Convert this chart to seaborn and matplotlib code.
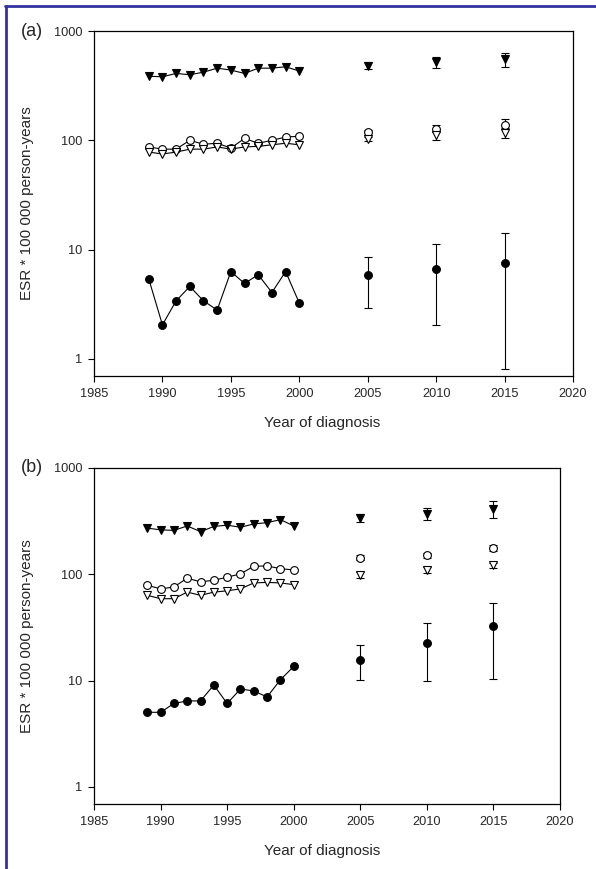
import numpy as np
import pandas as pd
import matplotlib
matplotlib.use("Agg")
import matplotlib.pyplot as plt
from matplotlib.lines import Line2D
import seaborn as sns

sns.set_theme(style="white")
plt.rcParams['font.family'] = ['Liberation Sans', 'DejaVu Sans']

years_annual = [1989, 1990, 1991, 1992, 1993, 1994, 1995, 1996, 1997, 1998, 1999, 2000]
years_proj = [2005, 2010, 2015]
series_names = ["filled_tri", "open_circle", "open_tri", "filled_circle"]

# ---- Panel (a) ----
a_filled_tri = [386, 381, 409, 398, 420, 457, 439, 409, 457, 457, 471, 430]
a_open_circle = [87, 83, 83, 100, 92, 94, 85, 104, 94, 100, 107, 109]
a_open_tri = [78, 75, 78, 83, 83, 87, 83, 87, 88, 91, 94, 91]
a_filled_circle = [5.4, 2.05, 3.4, 4.6, 3.4, 2.8, 6.3, 4.9, 5.9, 4.05, 6.3, 3.25]

a_proj_filled_tri = [480, 520, 550]
a_proj_filled_tri_lo = [445, 457, 471]
a_proj_filled_tri_hi = [520, 574, 624]
a_proj_open_circle = [118, 128, 138]
a_proj_open_circle_lo = [112, 118, 126]
a_proj_open_circle_hi = [124, 139, 156]
a_proj_open_tri = [103, 111, 117]
a_proj_open_tri_lo = [98, 100, 104]
a_proj_open_tri_hi = [108, 122, 130]
a_proj_filled_circle = [5.8, 6.6, 7.55]
a_proj_filled_circle_lo = [2.9, 2.04, 0.81]
a_proj_filled_circle_hi = [8.6, 11.2, 14.2]

# ---- Panel (b) ----
b_filled_tri = [272, 262, 259, 285, 252, 282, 290, 277, 298, 306, 327, 285]
b_open_circle = [79, 73, 76, 92, 85, 88, 94, 101, 119, 120, 113, 110]
b_open_tri = [63.5, 59, 59, 68, 63.5, 68, 70, 73, 83, 84, 83, 80]
b_filled_circle = [5.04, 5.04, 6.1, 6.45, 6.45, 9.1, 6.1, 8.35, 8.0, 7.03, 10.2, 13.6]

b_proj_filled_tri = [340, 370, 415]
b_proj_filled_tri_lo = [311, 325, 340]
b_proj_filled_tri_hi = [370, 421, 486]
b_proj_open_circle = [143, 151, 177]
b_proj_open_circle_lo = [135, 143, 167]
b_proj_open_circle_hi = [151, 160, 188]
b_proj_open_tri = [99, 110, 122]
b_proj_open_tri_lo = [93, 103, 115]
b_proj_open_tri_hi = [105, 117, 129]
b_proj_filled_circle = [15.7, 22.8, 32.8]
b_proj_filled_circle_lo = [10.1, 9.9, 10.4]
b_proj_filled_circle_hi = [21.6, 35.2, 54.3]

xticks = [1985, 1990, 1995, 2000, 2005, 2010, 2015, 2020]
yticks = [1, 10, 100, 1000]
ytick_labels = ["1", "10", "100", "1000"]
panel_labels = ["(a)", "(b)"]
xlabel = "Year of diagnosis"
ylabel = "ESR * 100 000 person-years"

styles = {
    "filled_tri": dict(marker="v", mfc="black"),
    "open_circle": dict(marker="o", mfc="white"),
    "open_tri": dict(marker="v", mfc="white"),
    "filled_circle": dict(marker="o", mfc="black"),
}

fig = plt.figure(figsize=(5.96, 8.69), dpi=100)

ax_a = fig.add_axes([94/596, 1-376/869, (573-94)/596, (376-31)/869])
ax_b = fig.add_axes([94/596, 1-804/869, (560-94)/596, (804-468)/869])

panels = [
    (ax_a, [a_filled_tri, a_open_circle, a_open_tri, a_filled_circle],
     [(a_proj_filled_tri, a_proj_filled_tri_lo, a_proj_filled_tri_hi),
      (a_proj_open_circle, a_proj_open_circle_lo, a_proj_open_circle_hi),
      (a_proj_open_tri, a_proj_open_tri_lo, a_proj_open_tri_hi),
      (a_proj_filled_circle, a_proj_filled_circle_lo, a_proj_filled_circle_hi)],
     0.698, 423, 31, 479),
    (ax_b, [b_filled_tri, b_open_circle, b_open_tri, b_filled_circle],
     [(b_proj_filled_tri, b_proj_filled_tri_lo, b_proj_filled_tri_hi),
      (b_proj_open_circle, b_proj_open_circle_lo, b_proj_open_circle_hi),
      (b_proj_open_tri, b_proj_open_tri_lo, b_proj_open_tri_hi),
      (b_proj_filled_circle, b_proj_filled_circle_lo, b_proj_filled_circle_hi)],
     0.692, 851, 468, 466),
]

MS = 5.6
for i, (ax, annual, proj, ybot, xlab_y, top_y, width_px) in enumerate(panels):
    for name, vals, (pv, plo, phi) in zip(series_names, annual, proj):
        st = styles[name]
        df = pd.DataFrame({"year": years_annual, "val": vals})
        sns.lineplot(data=df, x="year", y="val", ax=ax, color="black",
                     linewidth=0.8, marker=st["marker"], markersize=MS,
                     markerfacecolor=st["mfc"], markeredgecolor="black",
                     markeredgewidth=0.8, zorder=3)
        pv = np.array(pv); plo = np.array(plo); phi = np.array(phi)
        ax.errorbar(years_proj, pv, yerr=[pv - plo, phi - pv], fmt=st["marker"],
                    color="black", ecolor="black", elinewidth=0.8, capsize=2.8,
                    capthick=0.8, markersize=MS, markerfacecolor=st["mfc"],
                    markeredgecolor="black", markeredgewidth=0.8, zorder=3)
    ax.set_yscale("log")
    ax.set_ylim(ybot, 1000)
    ax.set_xlim(1985, 2020)
    ax.set_xticks(xticks)
    ax.set_xticklabels([str(x) for x in xticks])
    ax.set_yticks(yticks)
    ax.set_yticklabels(ytick_labels)
    ax.yaxis.set_minor_locator(matplotlib.ticker.NullLocator())
    ax.tick_params(axis="both", which="major", direction="out", length=4.5,
                   width=0.8, color="black", labelsize=9.2, pad=4,
                   bottom=True, left=True, top=False, right=False)
    for sp in ax.spines.values():
        sp.set_color("black")
        sp.set_linewidth(0.9)
        sp.set_visible(True)
    ax.set_xlabel("")
    ax.set_ylabel(ylabel, fontsize=11)
    ax.yaxis.set_label_coords((34 - 94) / width_px, 0.5)
    fig.text(322.5/596, 1 - xlab_y/869, xlabel, ha="center", va="center", fontsize=11)
    fig.text(21/596, 1 - top_y/869, panel_labels[i], ha="left", va="center", fontsize=13)

# blue frame lines
blue = "#3333a0"
fig.add_artist(Line2D([6/596, 6/596], [0, 1 - 5.7/869], transform=fig.transFigure,
                      color=blue, linewidth=2))
fig.add_artist(Line2D([5/596, 1], [1 - 5.7/869, 1 - 5.7/869], transform=fig.transFigure,
                      color=blue, linewidth=2))

fig.savefig("out.png", dpi=100)
